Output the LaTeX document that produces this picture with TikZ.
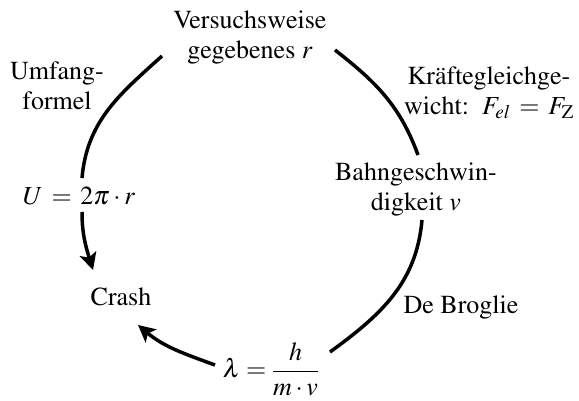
\documentclass[tikz,border=0pt]{standalone}
\usepackage[T1]{fontenc}
\usepackage{mathptmx}
\usetikzlibrary{arrows.meta}
\begin{document}
\begin{tikzpicture}[x=1pt,y=1pt,
  lbl/.style={inner sep=0pt, align=center, font=\fontsize{26}{30}\selectfont},
  arc/.style={line width=3.5pt},
  arr/.style={arc, -{Stealth[length=17pt,width=17pt,inset=4pt]}}]
\useasboundingbox (0,0) rectangle (579,-400);
\node[lbl] (top) at (250,-37) {Versuchsweise\\gegebenes $r$};
\node[lbl] (umf) at (57,-86) {Umfang-\\formel};
\node[lbl] (kraft) at (489,-93) {Kr\"aftegleichge-\\wicht:\ \ $F_{el} \,=\, F_{\mathrm{Z}}$};
\node[lbl] (bahn) at (416,-189) {Bahngeschwin-\\digkeit $v$};
\node[lbl] (U) at (79,-196) {$U \,=\, 2\pi\cdot r$};
\node[lbl] (crash) at (121,-297) {Crash};
\node[lbl] (debroglie) at (461,-307) {De Broglie};
\node[lbl] (lam) at (271,-369) {$\displaystyle \lambda = \frac{h}{m\cdot v}$};
\draw[arc] ([shift={(-88,-19)}]top.center) to[out=222,in=85] ([shift={(3,18)}]U.center);
\draw[arr] ([shift={(3,-16)}]U.center) to[out=270,in=107] ([shift={(-28,27)}]crash.center);
\draw[arc] ([shift={(85,-13)}]top.center) to[out=-38,in=110] ([shift={(2,34)}]bahn.center);
\draw[arc] ([shift={(6,-31)}]bahn.center) to[out=-95,in=36] ([shift={(59,17)}]lam.center);
\draw[arr] ([shift={(-56,4)}]lam.center) to[out=160,in=-40] ([shift={(17,-28)}]crash.center);
\end{tikzpicture}
\end{document}
